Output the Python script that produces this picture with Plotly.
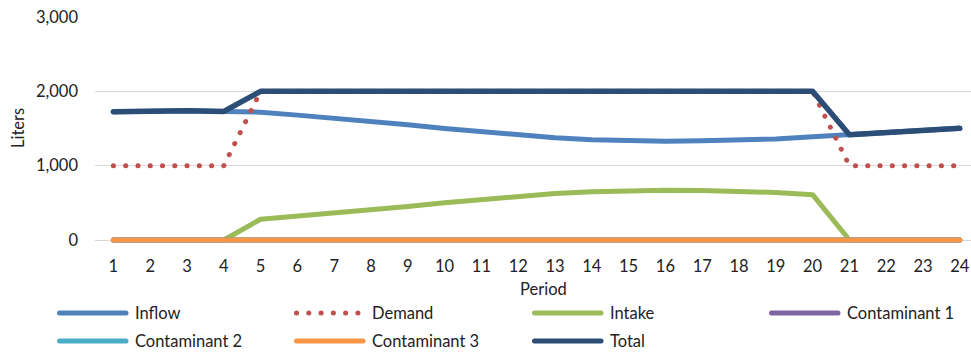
import plotly.graph_objects as go

# ---- data -------------------------------------------------------------
periods = list(range(1, 25))
inflow = [1725, 1740, 1740, 1730, 1720, 1680, 1640, 1600, 1550, 1500, 1455, 1410,
          1375, 1350, 1335, 1330, 1335, 1345, 1360, 1390, 1415, 1445, 1475, 1503]
demand = [1000] * 4 + [2000] * 16 + [1000] * 4
intake = [0, 0, 0, 0, 280, 320, 360, 400, 450, 500, 545, 590,
          625, 650, 665, 670, 665, 655, 640, 610, 0, 0, 0, 0]
contaminant1 = [0] * 24
contaminant2 = [0] * 24
contaminant3 = [0] * 24
total = [1725, 1740, 1740, 1730] + [2000] * 16 + [1415, 1445, 1475, 1503]

y_ticks = [0, 1000, 2000, 3000]

series = [
    ("Inflow", inflow, "#4F81BD", 5, "solid"),
    ("Demand", demand, "#C0504D", 5, "0.1px,12.17px"),
    ("Intake", intake, "#9BBB59", 5, "solid"),
    ("Contaminant 1", contaminant1, "#8064A2", 5, "solid"),
    ("Contaminant 2", contaminant2, "#4BACC6", 5, "solid"),
    ("Contaminant 3", contaminant3, "#F79646", 5, "solid"),
    ("Total", total, "#2C4D75", 5.5, "solid"),
]

FONT = "Lato"
TEXT = "#222222"
W, H = 971, 354
# plot box: x from 95 to the right edge, y value 3000 at 17px, 0 at 240px
PX_PER_UNIT = (240 - 17) / 3000
Y_MIN = -40                       # a little room below zero so the thick lines are not clipped
L, R, T = 95, 0, 17
B = H - round(240 - Y_MIN * PX_PER_UNIT)
pw, ph = W - L - R, H - T - B


def px_x(x):
    return (x - L) / pw


def px_y(y):
    return (H - B - y) / ph


fig = go.Figure()
for name, vals, color, width, dash in series:
    fig.add_trace(go.Scatter(
        x=periods, y=vals, name=name, mode="lines",
        line=dict(color=color, width=width, dash=dash),
        showlegend=False, hoverinfo="skip",
    ))

# ---- legend (two rows of four) -----------------------------------------
shapes, annotations = [], []
col_x = [57, 294, 532, 769]
row_y = [313, 341]
for i, (name, vals, color, width, dash) in enumerate(series):
    cx = col_x[i % 4]
    cy = row_y[i // 4]
    shapes.append(dict(
        type="line", xref="paper", yref="paper",
        x0=px_x(cx + 2.5), x1=px_x(cx + 69), y0=px_y(cy), y1=px_y(cy),
        line=dict(color=color, width=5, dash=dash),
    ))
    annotations.append(dict(
        text=name, xref="paper", yref="paper", x=px_x(cx + 76), y=px_y(cy),
        xanchor="left", yanchor="middle", showarrow=False,
        font=dict(family=FONT, size=16.5, color=TEXT),
    ))

# axis titles
annotations.append(dict(
    text="Period", xref="paper", yref="paper", x=px_x(543), y=px_y(289),
    xanchor="center", yanchor="middle", showarrow=False,
    font=dict(family=FONT, size=16.5, color=TEXT),
))
annotations.append(dict(
    text="Liters", xref="paper", yref="paper", x=px_x(18), y=px_y(128),
    xanchor="center", yanchor="middle", showarrow=False, textangle=-90,
    font=dict(family=FONT, size=16.5, color=TEXT),
))

fig.update_layout(
    width=W, height=H,
    margin=dict(l=L, r=R, t=T, b=B),
    paper_bgcolor="white", plot_bgcolor="white",
    font=dict(family=FONT, size=16.5, color=TEXT),
    shapes=shapes, annotations=annotations,
    hovermode=False,
)
fig.update_xaxes(
    range=[0.5, 0.5 + pw / 36.8], tickmode="array", tickvals=periods,
    ticktext=[str(p) for p in periods], showgrid=False, zeroline=False,
    showline=False, ticks="", ticklabelstandoff=11, automargin=False,
    fixedrange=True,
)
fig.update_yaxes(
    range=[Y_MIN, 3000], tickmode="array", tickvals=y_ticks,
    ticktext=[f"{v:,}" for v in y_ticks], showgrid=True, gridcolor="#D9D9D9",
    gridwidth=1, zeroline=False, showline=False, ticks="",
    ticklabelstandoff=16, automargin=False, fixedrange=True,
)

round_caps = """
var s = document.createElement('style');
s.textContent = '.scatterlayer .js-line, .shapelayer path {stroke-linecap: round; stroke-linejoin: round;}';
document.head.appendChild(s);
"""
fig.write_html("out.html", config={"staticPlot": True}, post_script=round_caps)
